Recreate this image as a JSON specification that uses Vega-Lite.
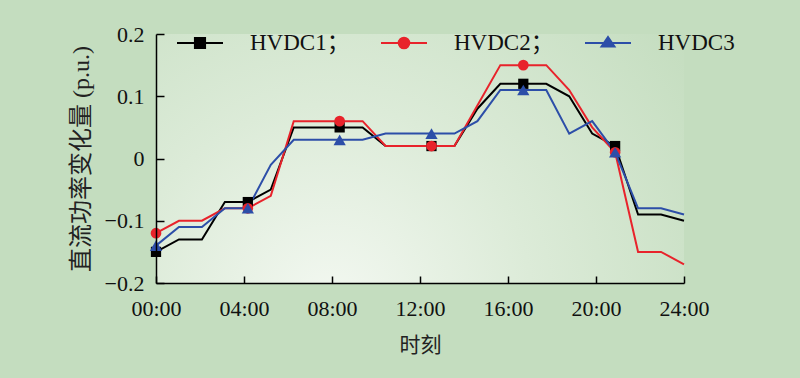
{
  "$schema": "https://vega.github.io/schema/vega-lite/v6.json",
  "autosize": {"type": "none"},
  "width": 528,
  "height": 249,
  "padding": {"left": 156, "top": 34, "right": 116, "bottom": 95},
  "background": "#c4ddbf",
  "config": {
    "view": {"stroke": null},
    "axis": {
      "domainColor": "#000000",
      "domainWidth": 1.5,
      "tickColor": "#000000",
      "tickWidth": 1.5,
      "ticks": true,
      "grid": false,
      "labelFlush": false,
      "labelFont": "Liberation Serif",
      "labelFontSize": 22,
      "labelColor": "#111111",
      "titleFont": "Liberation Serif, Noto Sans CJK SC",
      "titleFontWeight": "normal",
      "titleColor": "#222222"
    }
  },
  "datasets": {
    "series": [
      {"s": "HVDC1", "i": 0, "v": -0.15}, {"s": "HVDC1", "i": 1, "v": -0.13}, {"s": "HVDC1", "i": 2, "v": -0.13}, {"s": "HVDC1", "i": 3, "v": -0.07},
      {"s": "HVDC1", "i": 4, "v": -0.07}, {"s": "HVDC1", "i": 5, "v": -0.05}, {"s": "HVDC1", "i": 6, "v": 0.05}, {"s": "HVDC1", "i": 7, "v": 0.05},
      {"s": "HVDC1", "i": 8, "v": 0.05}, {"s": "HVDC1", "i": 9, "v": 0.05}, {"s": "HVDC1", "i": 10, "v": 0.02}, {"s": "HVDC1", "i": 11, "v": 0.02},
      {"s": "HVDC1", "i": 12, "v": 0.02}, {"s": "HVDC1", "i": 13, "v": 0.02}, {"s": "HVDC1", "i": 14, "v": 0.08}, {"s": "HVDC1", "i": 15, "v": 0.12},
      {"s": "HVDC1", "i": 16, "v": 0.12}, {"s": "HVDC1", "i": 17, "v": 0.12}, {"s": "HVDC1", "i": 18, "v": 0.10}, {"s": "HVDC1", "i": 19, "v": 0.04},
      {"s": "HVDC1", "i": 20, "v": 0.02}, {"s": "HVDC1", "i": 21, "v": -0.09}, {"s": "HVDC1", "i": 22, "v": -0.09}, {"s": "HVDC1", "i": 23, "v": -0.10},
      {"s": "HVDC2", "i": 0, "v": -0.12}, {"s": "HVDC2", "i": 1, "v": -0.10}, {"s": "HVDC2", "i": 2, "v": -0.10}, {"s": "HVDC2", "i": 3, "v": -0.08},
      {"s": "HVDC2", "i": 4, "v": -0.08}, {"s": "HVDC2", "i": 5, "v": -0.06}, {"s": "HVDC2", "i": 6, "v": 0.06}, {"s": "HVDC2", "i": 7, "v": 0.06},
      {"s": "HVDC2", "i": 8, "v": 0.06}, {"s": "HVDC2", "i": 9, "v": 0.06}, {"s": "HVDC2", "i": 10, "v": 0.02}, {"s": "HVDC2", "i": 11, "v": 0.02},
      {"s": "HVDC2", "i": 12, "v": 0.02}, {"s": "HVDC2", "i": 13, "v": 0.02}, {"s": "HVDC2", "i": 14, "v": 0.085}, {"s": "HVDC2", "i": 15, "v": 0.15},
      {"s": "HVDC2", "i": 16, "v": 0.15}, {"s": "HVDC2", "i": 17, "v": 0.15}, {"s": "HVDC2", "i": 18, "v": 0.11}, {"s": "HVDC2", "i": 19, "v": 0.05},
      {"s": "HVDC2", "i": 20, "v": 0.01}, {"s": "HVDC2", "i": 21, "v": -0.15}, {"s": "HVDC2", "i": 22, "v": -0.15}, {"s": "HVDC2", "i": 23, "v": -0.17},
      {"s": "HVDC3", "i": 0, "v": -0.14}, {"s": "HVDC3", "i": 1, "v": -0.11}, {"s": "HVDC3", "i": 2, "v": -0.11}, {"s": "HVDC3", "i": 3, "v": -0.08},
      {"s": "HVDC3", "i": 4, "v": -0.08}, {"s": "HVDC3", "i": 5, "v": -0.01}, {"s": "HVDC3", "i": 6, "v": 0.03}, {"s": "HVDC3", "i": 7, "v": 0.03},
      {"s": "HVDC3", "i": 8, "v": 0.03}, {"s": "HVDC3", "i": 9, "v": 0.03}, {"s": "HVDC3", "i": 10, "v": 0.04}, {"s": "HVDC3", "i": 11, "v": 0.04},
      {"s": "HVDC3", "i": 12, "v": 0.04}, {"s": "HVDC3", "i": 13, "v": 0.04}, {"s": "HVDC3", "i": 14, "v": 0.06}, {"s": "HVDC3", "i": 15, "v": 0.11},
      {"s": "HVDC3", "i": 16, "v": 0.11}, {"s": "HVDC3", "i": 17, "v": 0.11}, {"s": "HVDC3", "i": 18, "v": 0.04}, {"s": "HVDC3", "i": 19, "v": 0.06},
      {"s": "HVDC3", "i": 20, "v": 0.01}, {"s": "HVDC3", "i": 21, "v": -0.08}, {"s": "HVDC3", "i": 22, "v": -0.08}, {"s": "HVDC3", "i": 23, "v": -0.09}
    ]
  },
  "layer": [
    {
      "data": {"values": [{}]},
      "mark": {
        "type": "rect",
        "fill": {
          "gradient": "radial",
          "x1": 0.33, "y1": 0.78, "r1": 0,
          "x2": 0.33, "y2": 0.78, "r2": 0.85,
          "stops": [
            {"offset": 0, "color": "#f3f8f1"},
            {"offset": 0.45, "color": "#dcebd8"},
            {"offset": 1, "color": "#c4ddbf"}
          ]
        }
      },
      "encoding": {}
    },
    {
      "data": {"name": "series"},
      "mark": {"type": "line", "strokeWidth": 2},
      "encoding": {
        "x": {
          "field": "i", "type": "quantitative",
          "scale": {"domain": [0, 23], "nice": false, "zero": false},
          "axis": {
            "values": [0, 3.8333, 7.6667, 11.5, 15.3333, 19.1667, 23],
            "labelExpr": "(round(datum.value*24/23) < 10 ? '0' : '') + round(datum.value*24/23) + ':00'",
            "zindex": 1,
            "tickSize": -7,
            "tickColor": "#000000",
            "labelPadding": 22,
            "title": "时刻",
            "titleFontSize": 21,
            "titlePadding": 15
          }
        },
        "y": {
          "field": "v", "type": "quantitative",
          "scale": {"domain": [-0.2, 0.2], "nice": false},
          "axis": {
            "values": [-0.2, -0.1, 0, 0.1, 0.2],
            "format": ".1~f",
            "zindex": 1,
            "tickSize": -8,
            "tickColor": "#000000",
            "labelPadding": 20,
            "title": "直流功率变化量 (p.u.)",
            "titleFontSize": 24,
            "titlePadding": 11
          }
        },
        "color": {
          "field": "s", "type": "nominal",
          "scale": {"domain": ["HVDC1", "HVDC2", "HVDC3"], "range": ["#000000", "#e8232b", "#2c4ea8"]},
          "legend": {
            "title": null,
            "orient": "none",
            "legendX": 20,
            "legendY": -15,
            "direction": "horizontal",
            "columns": 3,
            "padding": 0,
            "columnPadding": 27,
            "symbolSize": 2116,
            "symbolStrokeWidth": 2,
            "labelOffset": 26,
            "labelFont": "Liberation Serif, Noto Sans CJK SC",
            "labelFontSize": 23,
            "labelColor": "#111111",
            "labelLimit": 300,
            "labelExpr": "datum.label === 'HVDC3' ? datum.label : datum.label + '；'",
            "encode": {
              "symbols": {
                "update": {
                  "shape": {"signal": "datum.value === 'HVDC1' ? 'M-1,0H1M-0.22,-0.22H0.22V0.22H-0.22Z' : datum.value === 'HVDC2' ? 'M-1,0H1M0.23,0A0.23,0.23 0 1,1 -0.23,0A0.23,0.23 0 1,1 0.23,0Z' : 'M-1,0H1M0,-0.26L0.28,0.15H-0.28Z'"},
                  "stroke": {"signal": "datum.value === 'HVDC1' ? '#000000' : datum.value === 'HVDC2' ? '#e8232b' : '#2c4ea8'"},
                  "fill": {"signal": "datum.value === 'HVDC1' ? '#000000' : datum.value === 'HVDC2' ? '#e8232b' : '#2c4ea8'"},
                  "strokeWidth": {"value": 2},
                  "opacity": {"value": 1}
                }
              }
            }
          }
        }
      }
    },
    {
      "data": {"name": "series"},
      "transform": [{"filter": "datum.s === 'HVDC1' && datum.i % 4 === 0"}],
      "mark": {"type": "point", "shape": "square", "filled": true, "opacity": 1, "size": 105},
      "encoding": {
        "x": {"field": "i", "type": "quantitative"},
        "y": {"field": "v", "type": "quantitative"},
        "color": {"field": "s", "type": "nominal"}
      }
    },
    {
      "data": {"name": "series"},
      "transform": [{"filter": "datum.s === 'HVDC2' && datum.i % 4 === 0"}],
      "mark": {"type": "point", "shape": "circle", "filled": true, "opacity": 1, "size": 115},
      "encoding": {
        "x": {"field": "i", "type": "quantitative"},
        "y": {"field": "v", "type": "quantitative"},
        "color": {"field": "s", "type": "nominal"}
      }
    },
    {
      "data": {"name": "series"},
      "transform": [{"filter": "datum.s === 'HVDC3' && datum.i % 4 === 0"}],
      "mark": {"type": "point", "shape": "triangle-up", "filled": true, "opacity": 1, "size": 150},
      "encoding": {
        "x": {"field": "i", "type": "quantitative"},
        "y": {"field": "v", "type": "quantitative"},
        "color": {"field": "s", "type": "nominal"}
      }
    }
  ]
}
